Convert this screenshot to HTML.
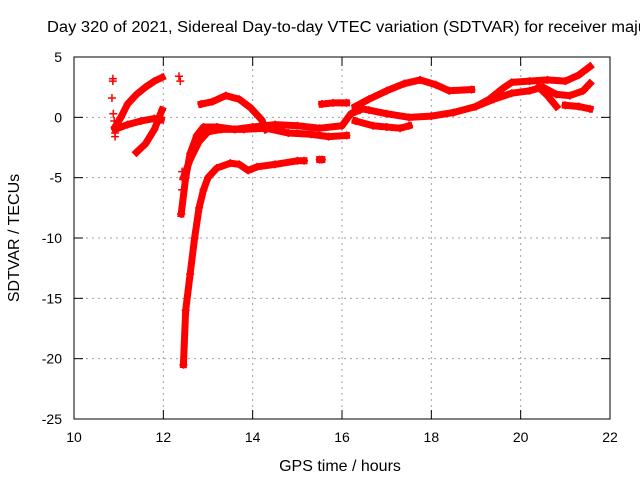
<!DOCTYPE html>
<html><head><meta charset="utf-8"><style>
body{margin:0;background:#fff;overflow:hidden;}
svg text{font-family:"Liberation Sans",sans-serif;font-size:14px;fill:#000;}
</style></head><body>
<svg id="chart" width="640" height="480" xmlns="http://www.w3.org/2000/svg">
<text x="47" y="32" style="font-size:15.5px" textLength="600" lengthAdjust="spacingAndGlyphs">Day 320 of 2021, Sidereal Day-to-day VTEC variation (SDTVAR) for receiver maju</text>
<text x="340" y="471" text-anchor="middle" style="font-size:16px">GPS time / hours</text>
<text transform="translate(19,238) rotate(-90)" text-anchor="middle" style="font-size:16px">SDTVAR / TECUs</text>
<g id="grid"></g><g id="ticks"></g><g id="marks"></g>
<rect x="74" y="57" width="536" height="362" fill="none" stroke="#000" stroke-width="1"/>
</svg>
<script>
const xTicks=[10,12,14,16,18,20,22];
const yTicks=[5,0,-5,-10,-15,-20,-25];
const trackA=[[10.92,-0.8],[11.05,0],[11.2,1.1],[11.4,1.9],[11.6,2.5],[11.8,3.0],[11.97,3.3]];
const trackB=[[10.92,-1.0],[11.2,-0.6],[11.5,-0.3],[11.8,-0.1],[11.95,-0.2]];
const trackC=[[11.4,-2.9],[11.6,-2.2],[11.8,-1.0],[11.97,0.6]];
const trackD=[[12.45,-20.5],[12.5,-16],[12.6,-13],[12.7,-10],[12.8,-7.5],[12.9,-6],[13.0,-5],[13.2,-4.2],[13.5,-3.8],[13.7,-3.9],[13.9,-4.4],[14.1,-4.1],[14.5,-3.9],[15.0,-3.6],[15.15,-3.6]];
const trackE=[[12.4,-8],[12.5,-5],[12.6,-3],[12.75,-1.5],[12.9,-0.8],[13.2,-0.8],[13.6,-1.0],[14.0,-0.8],[14.5,-0.6],[15.0,-0.7],[15.5,-0.9],[16.0,-0.7],[16.2,0.3],[16.4,0.6]];
const trackF=[[12.45,-5],[12.6,-3.5],[12.8,-2],[13.0,-1.2],[13.3,-1.0],[13.8,-1.0],[14.3,-0.9],[14.8,-1.3],[15.3,-1.4],[15.7,-1.6],[16.1,-1.5]];
const trackG=[[12.85,1.1],[13.1,1.3],[13.4,1.8],[13.7,1.5],[13.95,0.8],[14.2,-0.2],[14.3,-1.0]];
const trackH=[[16.3,0.9],[16.6,1.5],[17.0,2.2],[17.4,2.8],[17.75,3.1],[18.1,2.7],[18.4,2.2],[18.9,2.3]];
const trackI=[[16.3,0.8],[16.6,0.6],[17.0,0.3],[17.5,0.0],[18.0,0.1],[18.5,0.4],[19.0,0.9],[19.3,1.5],[19.6,2.4],[19.8,2.9],[20.2,3.0],[20.6,3.1],[21.0,3.0],[21.3,3.5],[21.55,4.2]];
const trackJ=[[19.0,0.9],[19.4,1.5],[19.8,2.0],[20.2,2.2],[20.5,2.5],[20.8,1.9],[21.1,1.8],[21.4,2.2],[21.55,2.8]];
const trackK=[[20.4,2.5],[20.6,1.8],[20.8,0.9]];
const trackK2=[[21.0,1.0],[21.3,0.9],[21.55,0.7]];
const trackL=[[16.3,-0.3],[16.7,-0.7],[17.0,-0.8],[17.3,-0.9],[17.5,-0.7]];
const trackM=[[15.55,1.1],[15.8,1.2],[16.1,1.2]];
const trackN=[[15.5,-3.5],[15.55,-3.5]];
const scatter=[[10.87,3.2],[10.87,3.0],[10.85,1.6],[10.88,0.3],[10.9,-0.3],[10.92,-1.3],[10.92,-1.6],[12.35,3.4],[12.38,3.0],[12.42,-4.5],[12.42,-6],[12.4,-8]];
const tracks=[trackA,trackB,trackC,trackD,trackE,trackF,trackG,trackH,trackI,trackJ,trackK,trackK2,trackL,trackM,trackN];
const X=h=>74+(h-10)*536/12;
const Y=v=>57+(5-v)*362/30;
const NS="http://www.w3.org/2000/svg";
const grid=document.getElementById('grid'),ticks=document.getElementById('ticks'),marks=document.getElementById('marks');
function mk(tag,attrs,parent){const e=document.createElementNS(NS,tag);for(const k in attrs)e.setAttribute(k,attrs[k]);parent.appendChild(e);return e;}
xTicks.forEach(t=>{
  const x=X(t);
  if(t>10&&t<22){const g=mk('line',{x1:x,y1:57,x2:x,y2:419,stroke:'#a0a0a0','stroke-dasharray':'2,4'},grid);
  
  }
  mk('line',{x1:x,y1:419,x2:x,y2:410,stroke:'#000'},ticks);
  mk('line',{x1:x,y1:57,x2:x,y2:66,stroke:'#000'},ticks);
  const l=mk('text',{x:x,y:442,'text-anchor':'middle'},ticks);l.textContent=t;
  
  
});
yTicks.forEach(t=>{
  const y=Y(t);
  if(t<5&&t>-25){const g=mk('line',{x1:74,y1:y,x2:610,y2:y,stroke:'#a0a0a0','stroke-dasharray':'2,4'},grid);
  
  }
  mk('line',{x1:74,y1:y,x2:83,y2:y,stroke:'#000'},ticks);
  mk('line',{x1:610,y1:y,x2:601,y2:y,stroke:'#000'},ticks);
  const l=mk('text',{x:62,y:y+5,'text-anchor':'end'},ticks);l.textContent=t;
  
  
});
function plus(h,v){
  const x=X(h),y=Y(v);
  const p=mk('path',{d:`M${x-4},${y}H${x+4}M${x},${y-4}V${y+4}`,stroke:'#f00','stroke-width':1.5,fill:'none'},marks);
  
  
}
tracks.forEach(tr=>{
  const pl=mk('polyline',{points:tr.map(p=>X(p[0])+','+Y(p[1])).join(' '),fill:'none',stroke:'#f00','stroke-width':7,'stroke-linejoin':'round','stroke-linecap':'square'},marks);
  
  
  tr.forEach(p=>plus(p[0],p[1]));
});
scatter.forEach(p=>plus(p[0],p[1]));
</script>
</body></html>
